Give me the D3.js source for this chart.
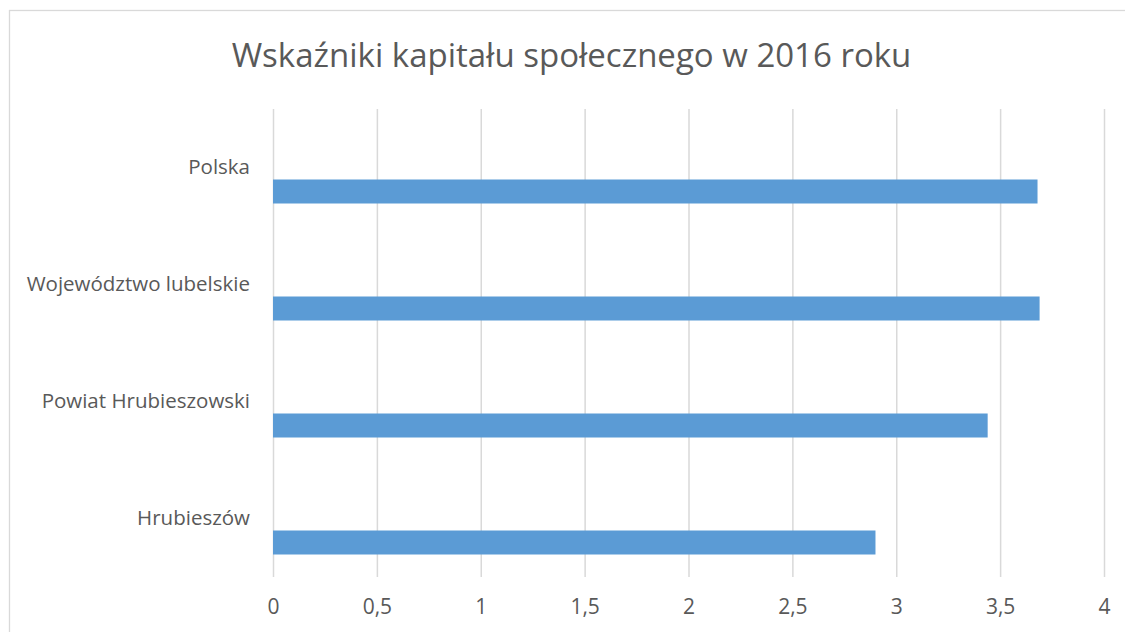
<!DOCTYPE html>
<html>
<head>
<meta charset="utf-8">
<script src="https://cdn.jsdelivr.net/npm/d3@7"></script>
<style>
  body { margin: 0; background: #fff; }
  text { font-family: "Open Sans", sans-serif; fill: #595959; }
</style>
</head>
<body>
<div id="wykres"></div>
<script>
// dane
var kategorie = ["Polska", "Województwo lubelskie", "Powiat Hrubieszowski", "Hrubieszów"];
var wartosci = [3.68, 3.69, 3.44, 2.9];
var osX = [0, 0.5, 1, 1.5, 2, 2.5, 3, 3.5, 4];
var tytul = "Wskaźniki kapitału społecznego w 2016 roku";

var w = 1125;
var h = 632;
var margin = {top: 109, right: 21, bottom: 55, left: 273};
var kolor = "#5B9BD5";
var siatka = "#d9d9d9";

// w Excelu byly 3 serie, widoczna tylko trzecia
var sloty = [0, 1, 2];
var widocznySlot = 2;

var svg = d3.select("#wykres").append("svg")
   .attr("width", w)
   .attr("height", h);

// ramka wykresu
svg.append("rect")
   .attr("x", 9.5)
   .attr("y", 10.5)
   .attr("width", w + 20)
   .attr("height", h + 20)
   .attr("fill", "none")
   .attr("stroke", siatka)
   .attr("stroke-width", 1.3);

var x = d3.scaleLinear()
   .domain([0, 4])
   .range([margin.left, w - margin.right]);

var y = d3.scaleBand()
   .domain(kategorie)
   .range([margin.top, h - margin.bottom]);

var ySlot = d3.scaleBand()
   .domain(sloty)
   .range([0, y.bandwidth()])
   .paddingOuter(0.9375);

// siatka + etykiety osi X
var gx = svg.append("g")
   .attr("transform", "translate(0," + (h - margin.bottom) + ")")
   .call(d3.axisBottom(x)
      .tickValues(osX)
      .tickSize(-(h - margin.bottom - margin.top))
      .tickPadding(22)
      .tickFormat(function(d) { return String(d).replace(".", ","); }));
gx.select(".domain").remove();
gx.selectAll(".tick line").attr("stroke", siatka).attr("stroke-width", 1.5);
gx.selectAll(".tick text")
   .attr("fill", "#595959")
   .style("font-size", "21px")
   .style("font-family", "'Open Sans', sans-serif");

// slupki
svg.selectAll("rect.bar")
   .data(wartosci)
   .enter()
   .append("rect")
   .attr("class", "bar")
   .attr("x", x(0))
   .attr("y", function(d, i) {
      return y(kategorie[i]) + ySlot(widocznySlot);
   })
   .attr("width", function(d) {
      return x(d) - x(0);
   })
   .attr("height", ySlot.bandwidth())
   .attr("fill", kolor);

// etykiety kategorii
var gy = svg.append("g")
   .attr("transform", "translate(" + margin.left + ",0)")
   .call(d3.axisLeft(y).tickSize(0).tickPadding(23));
gy.select(".domain").remove();
gy.selectAll(".tick text")
   .attr("fill", "#595959")
   .attr("dy", "0.3em")
   .style("font-size", "20.5px")
   .style("font-family", "'Open Sans', sans-serif");

// tytul
svg.append("text")
   .attr("x", 571.5)
   .attr("y", 67)
   .attr("text-anchor", "middle")
   .style("font-size", "33px")
   .text(tytul);
</script>
</body>
</html>
